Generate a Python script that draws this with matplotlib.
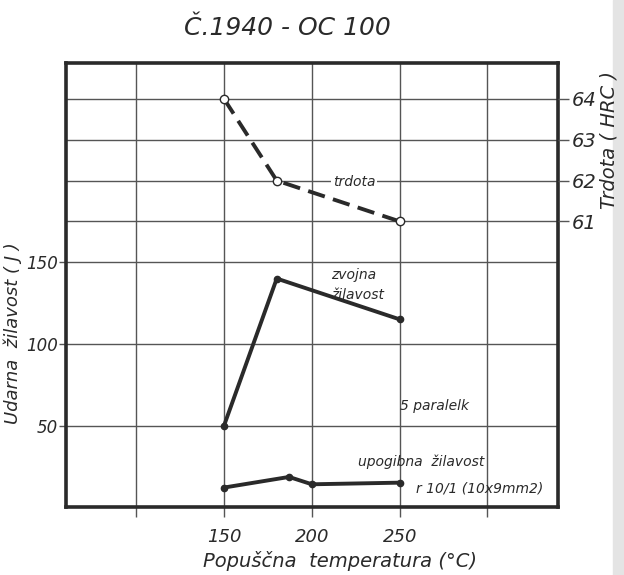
import matplotlib
matplotlib.use("Agg")
import matplotlib.pyplot as plt
from matplotlib.patches import Rectangle

# ── data ───────────────────────────────────────────────────
temp_hard = [150, 180, 250]
hardness = [64, 62, 61]            # HRC (right axis)

temp_torsion = [150, 180, 250]
torsion = [50, 140, 115]           # J

temp_bend = [150, 187, 200, 250]
bending = [12, 18.5, 14, 15]       # J

x_ticks = [100, 150, 200, 250, 300]
x_labels = ["", "150", "200", "250", ""]
y_ticks = [50, 100, 150]
y_grid_extra = [175, 200, 225, 250]
hrc_ticks = [61, 62, 63, 64]

ink = "#2a2a2a"
grid_col = "#555555"
plt.rcParams["font.family"] = ["DejaVu Sans"]
plt.rcParams["font.style"] = "italic"

fig = plt.figure(figsize=(6.24, 5.75), dpi=100)
fig.patch.set_facecolor("white")
# scanned page edge on the right
fig.patches.append(Rectangle((613 / 624, 0), 11 / 624, 1, transform=fig.transFigure,
                             color="#e4e4e4", zorder=0))

ax = fig.add_axes([0.1058, 0.118, 0.788, 0.7724])
ax.set_xlim(60, 340)
ax.set_ylim(0, 272)

ax.set_xticks(x_ticks)
ax.set_xticklabels(x_labels, fontsize=13, color=ink)
ax.set_yticks(y_ticks)
ax.set_yticklabels([str(v) for v in y_ticks], fontsize=12, color=ink)
ax.set_yticks(y_grid_extra, minor=True)
ax.tick_params(axis="x", which="major", direction="out", length=7, width=1, color=grid_col, pad=8)
ax.tick_params(axis="y", which="major", direction="out", length=5, width=1, color=grid_col, pad=1)
ax.tick_params(axis="y", which="minor", length=0)
ax.grid(True, which="both", color=grid_col, lw=1.0)
ax.set_axisbelow(True)
for s in ax.spines.values():
    s.set_linewidth(2.6)
    s.set_color(ink)

# ── curves ─────────────────────────────────────────────────
ax.plot(temp_torsion, torsion, color=ink, lw=2.8, marker="o", ms=4.5,
        mfc=ink, mec=ink, zorder=3)
ax.plot(temp_bend, bending, color=ink, lw=2.8, marker="o", ms=4.5,
        mfc=ink, mec=ink, zorder=3)

ax2 = ax.twinx()
ax2.set_ylim(54, 64.88)
ax2.set_yticks(hrc_ticks)
ax2.set_yticklabels([str(v) for v in hrc_ticks], fontsize=14, color=ink)
ax2.tick_params(axis="y", direction="out", length=8, width=1, color=grid_col, pad=2)
for s in ax2.spines.values():
    s.set_visible(False)
ax2.plot(temp_hard, hardness, color=ink, lw=2.8, ls=(0, (4.5, 2.2)), marker="o", ms=6,
         mfc="white", mec=ink, mew=1.0, zorder=3)

# ── annotations ────────────────────────────────────────────
ax.text(224, 199, "trdota", fontsize=10, color=ink, ha="center", va="center",
        bbox=dict(facecolor="white", edgecolor="none", pad=1.5), zorder=4)
ax.text(211, 136, "zvojna\nžilavost", fontsize=10, color=ink, ha="left", va="center",
        linespacing=1.5)
ax.text(250, 62, "5 paralelk", fontsize=10, color=ink, ha="left", va="center")
ax.text(226, 28, "upogibna  žilavost", fontsize=10, color=ink, ha="left", va="center")
ax.text(332, 11.5, "r 10/1 (10x9mm2)", fontsize=10, color=ink, ha="right", va="center")

# ── titles ─────────────────────────────────────────────────
fig.text(287 / 624, 1 - 28 / 575, "Č.1940 - OC 100", fontsize=18, color=ink,
         ha="center", va="center")
fig.text(340 / 624, 1 - 561 / 575, "Popuščna  temperatura (°C)", fontsize=14, color=ink,
         ha="center", va="center")
fig.text(13 / 624, 1 - 333 / 575, "Udarna  žilavost ( J )", fontsize=13, color=ink,
         ha="center", va="center", rotation=90)
fig.text(609 / 624, 1 - 140 / 575, "Trdota ( HRC )", fontsize=14, color=ink,
         ha="center", va="center", rotation=90)

fig.savefig("out.png", dpi=100, facecolor="white")
